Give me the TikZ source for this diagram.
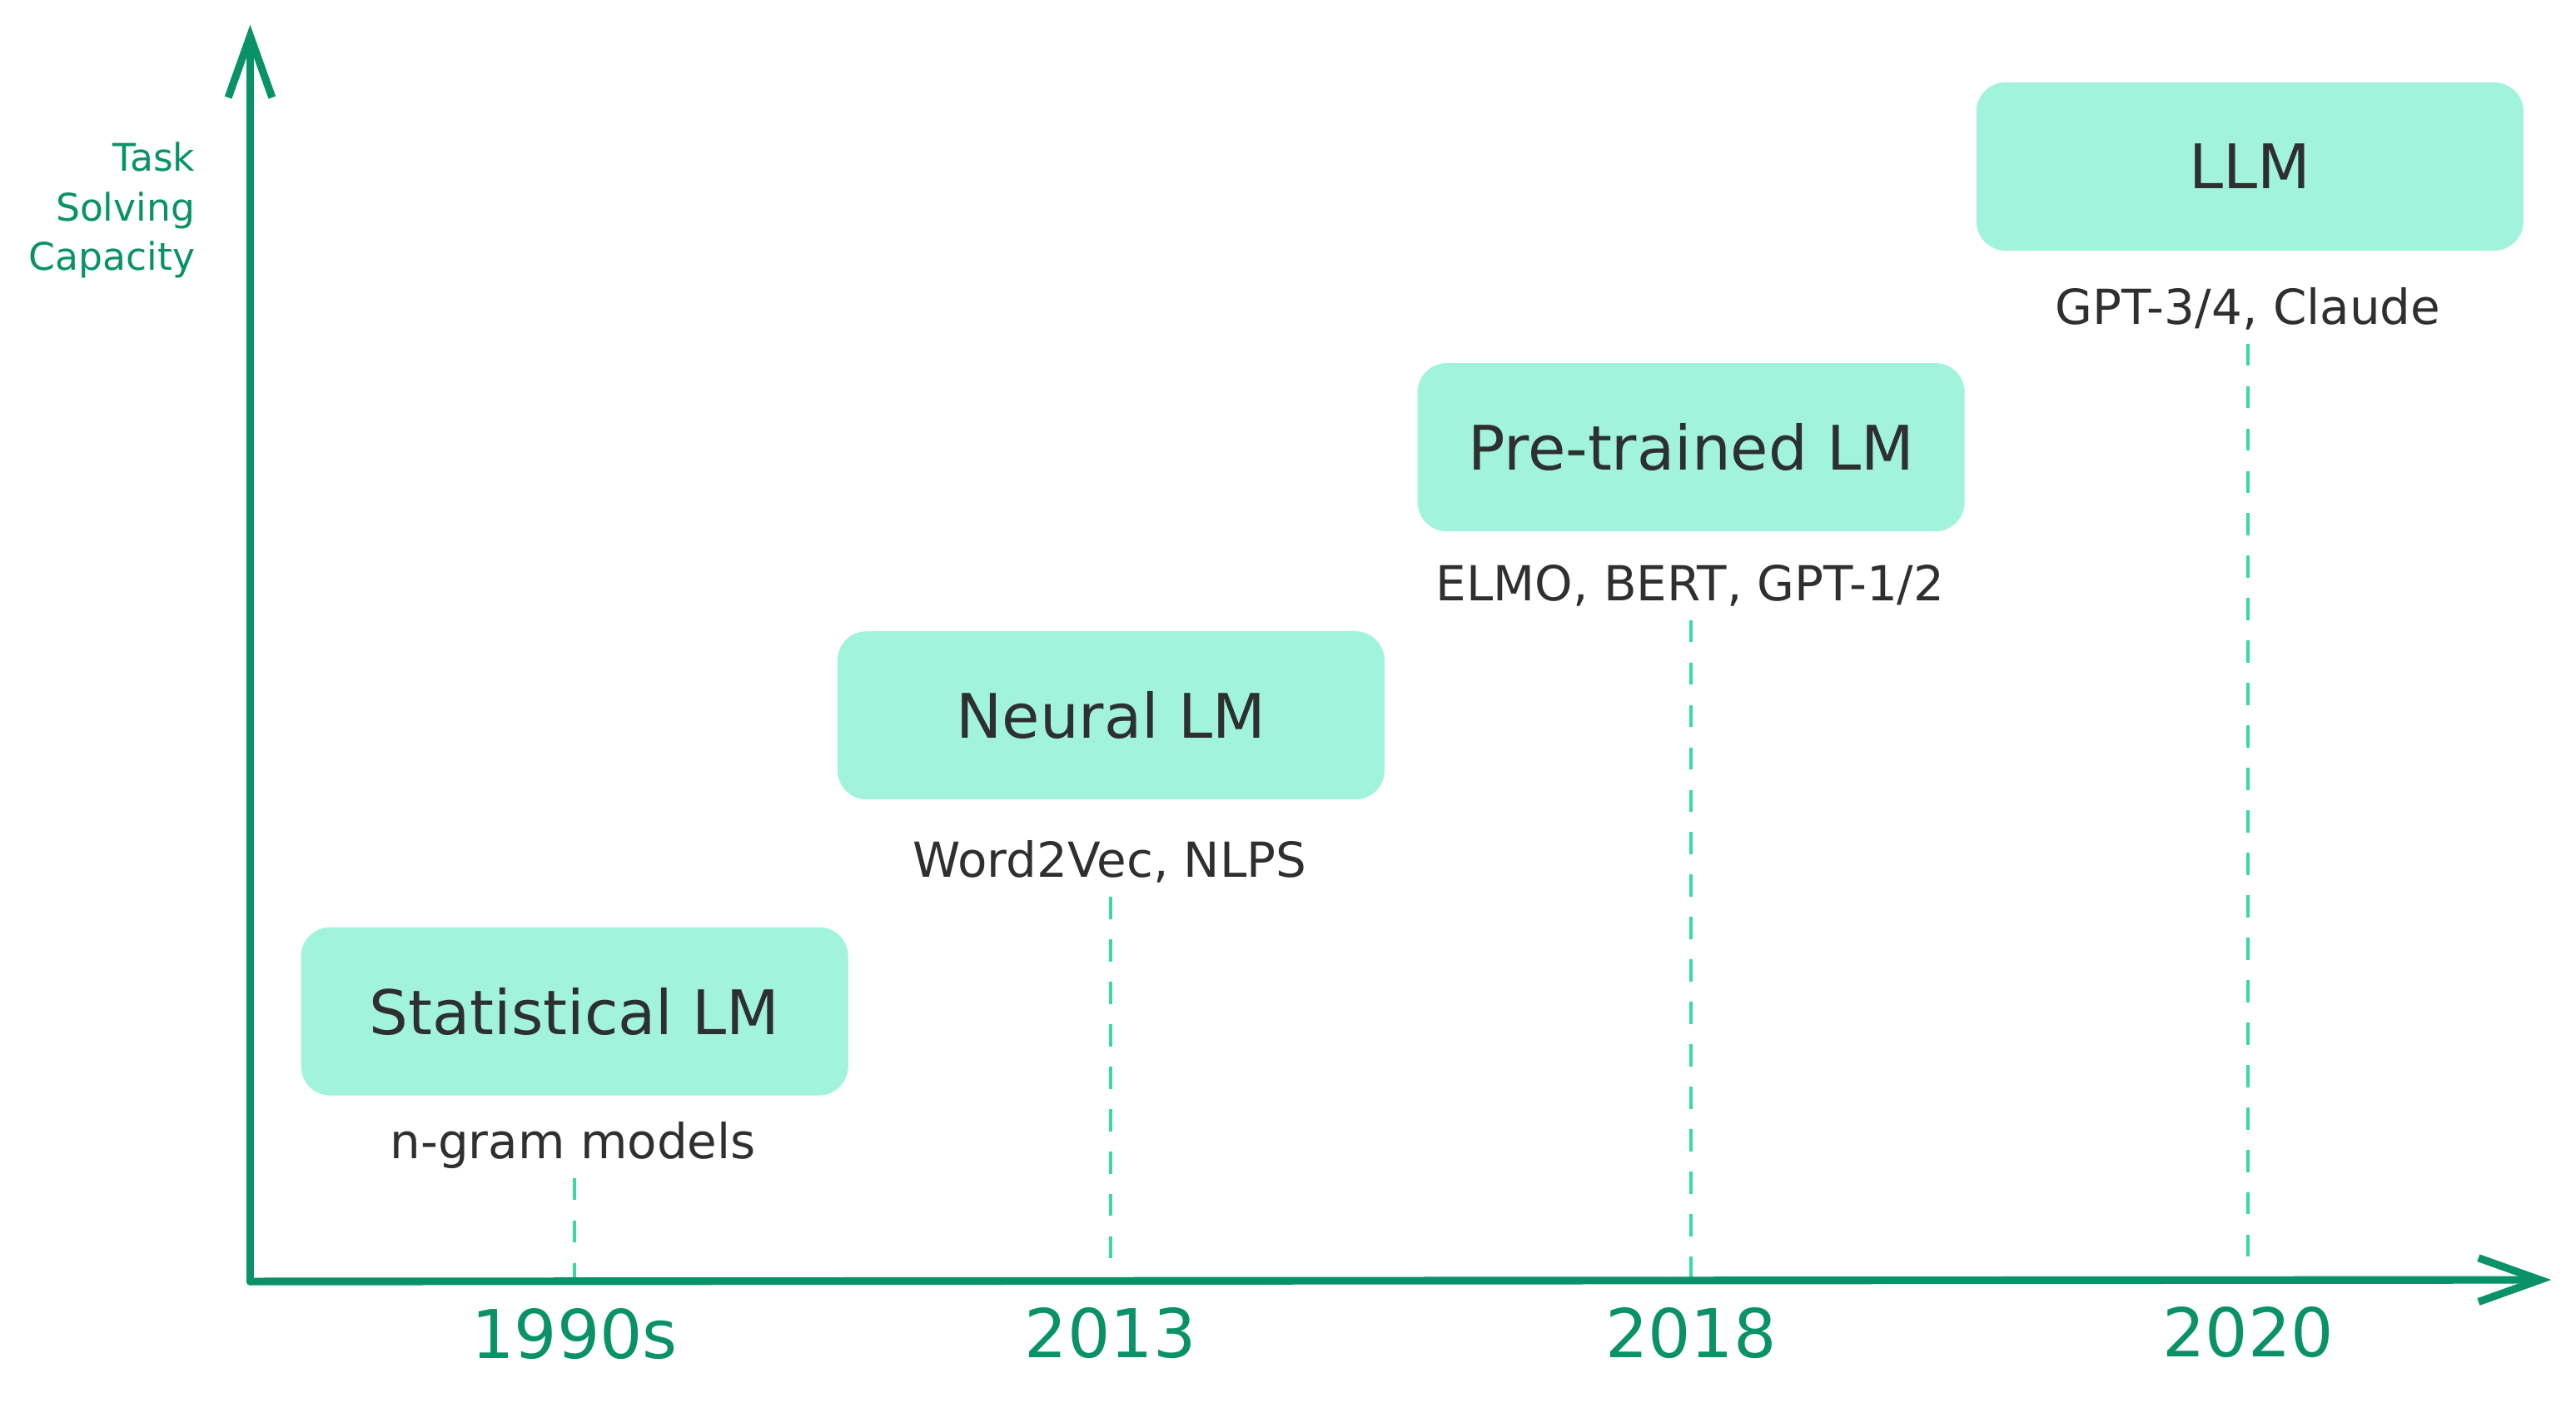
\documentclass[tikz,border=0pt]{standalone}
\usepackage{fontspec}
\setmainfont{DejaVu Sans}
\usetikzlibrary{arrows.meta,positioning}
\definecolor{axisgreen}{HTML}{099268}
\definecolor{guidegreen}{HTML}{38D9A9}
\definecolor{boxfill}{HTML}{A2F3DC}
\definecolor{ink}{HTML}{2D302F}
\tikzset{%
   era/.style={rectangle, rounded corners=10pt, fill=boxfill, minimum width=187pt, minimum height=57.5pt, inner sep=0pt, text=ink, font=\fontsize{21}{25}\selectfont},
   tool/.style={text=ink, text depth=0.25em, inner sep=4pt, font=\fontsize{16.5}{20}\selectfont},
   year/.style={text=axisgreen, inner sep=2pt, font=\fontsize{23}{27}\selectfont},
   guide/.style={draw=guidegreen, line width=1.2pt, dash pattern=on 7.6pt off 6.9pt},
   axis/.style={draw=axisgreen, line width=2.6pt, line cap=round, -{Straight Barb[length=21pt, width=15pt]}},
}

\begin{document}
\begin{tikzpicture}[x=0.01983cm, y=-0.01983cm]
      \useasboundingbox (0,0) rectangle (1560,852.6);
      % axes end points and ticks
      \coordinate (o) at (151.5,776);
      \coordinate (ytop) at (151.5,15);
      \coordinate (xend) at (1545,775);
      \coordinate (t1) at (348,776);
      \coordinate (t2) at (672.5,775.5);
      \coordinate (t3) at (1024,775.5);
      \coordinate (t4) at (1361.5,775);
      % eras
      \node[era] (stat) at (348,612.4) {Statistical LM};
      \node[era] (neural) at (672.8,433.2) {Neural LM};
      \node[era] (pre) at (1024.1,270.8) {Pre-trained LM};
      \node[era] (llm) at (1362.5,100.8) {LLM};
      \node[tool, anchor=base] (s1) at (347,701.4) {n-gram models};
      \node[tool, anchor=base] (s2) at (672,531.2) {Word2Vec, NLPS};
      \node[tool, anchor=base] (s3) at (1023.5,363.6) {ELMO, BERT, GPT-1/2};
      \node[tool, anchor=base] (s4) at (1361.4,196.2) {GPT-3/4, Claude};
      \draw[guide] (s1.south -| t1) -- (t1);
      \draw[guide] (s2.south -| t2) -- (t2);
      \draw[guide] (s3.south -| t3) -- (t3);
      \draw[guide] (s4.south -| t4) -- (t4);
      % axes
      \draw[axis] (o) -- (ytop);
      \draw[axis] (o) -- (xend);
      \node[text=axisgreen, anchor=north east, align=right, inner sep=0pt, font=\fontsize{13}{16.9}\selectfont] (cap) at (118.5,86) {Task\\Solving\\Capacity};
      \node[year, below=7pt of t1] (y1) {1990s};
      \node[year, below=7pt of t2] (y2) {2013};
      \node[year, below=7pt of t3] (y3) {2018};
      \node[year, below=7pt of t4] (y4) {2020};
\end{tikzpicture}
\end{document}
